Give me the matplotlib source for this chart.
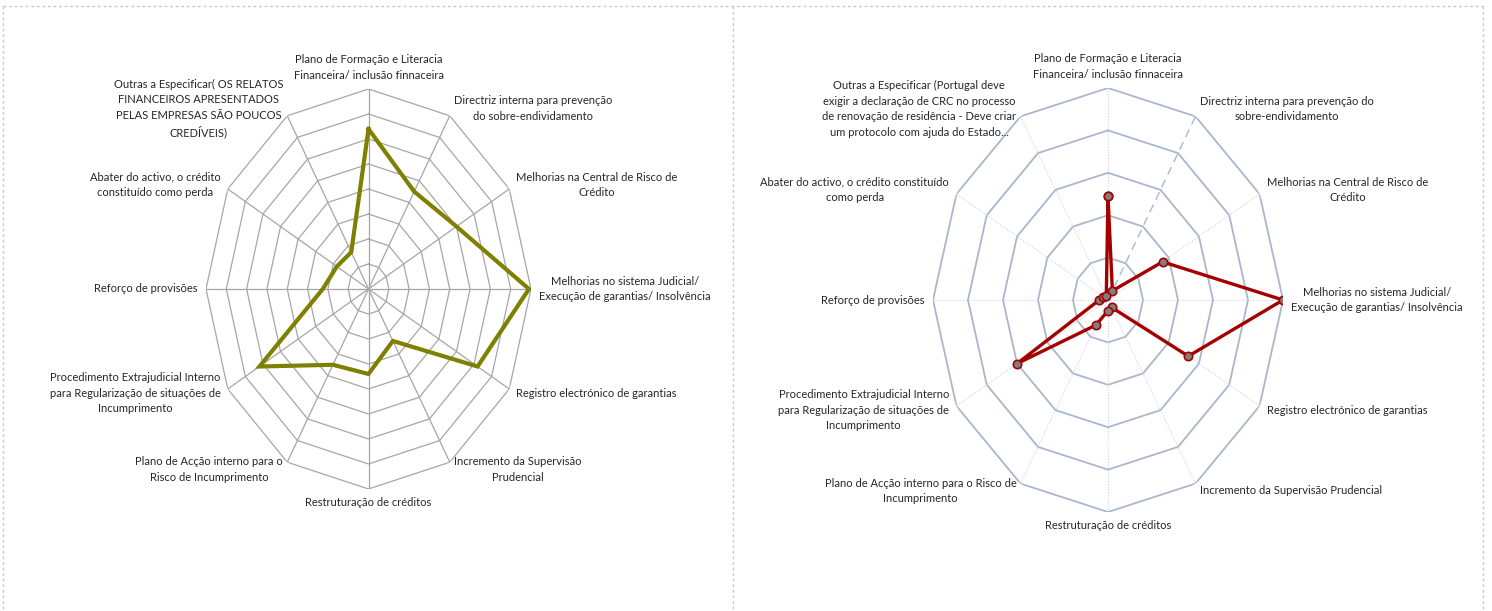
import numpy as np
import matplotlib.pyplot as plt
from matplotlib.lines import Line2D

plt.rcParams['font.family'] = ['Lato', 'DejaVu Sans']

# categorias (sentido horario a partir do topo)
labels_left = [
    "Plano de Formação e Literacia\nFinanceira/ inclusão finnaceira",
    "Directriz interna para prevenção\ndo sobre-endividamento",
    "Melhorias na Central de Risco de\nCrédito",
    "Melhorias no sistema Judicial/\nExecução de garantias/ Insolvência",
    "Registro electrónico de garantias",
    "Incremento da Supervisão\nPrudencial",
    "Restruturação de créditos",
    "Plano de Acção interno para o\nRisco de Incumprimento",
    "Procedimento Extrajudicial Interno\npara Regularização de situações de\nIncumprimento",
    "Reforço de provisões",
    "Abater do activo, o crédito\nconstituído como perda",
    "Outras a Especificar( OS RELATOS\nFINANCEIROS APRESENTADOS\nPELAS EMPRESAS SÃO POUCOS\nCREDÍVEIS)",
]
labels_right = [
    "Plano de Formação e Literacia\nFinanceira/ inclusão finnaceira",
    "Directriz interna para prevenção do\nsobre-endividamento",
    "Melhorias na Central de Risco de\nCrédito",
    "Melhorias no sistema Judicial/\nExecução de garantias/ Insolvência",
    "Registro electrónico de garantias",
    "Incremento da Supervisão Prudencial",
    "Restruturação de créditos",
    "Plano de Acção interno para o Risco de\nIncumprimento",
    "Procedimento Extrajudicial Interno\npara Regularização de situações de\nIncumprimento",
    "Reforço de provisões",
    "Abater do activo, o crédito constituído\ncomo perda",
    "Outras a Especificar (Portugal deve\nexigir a declaração de CRC no processo\nde renovação de residência - Deve criar\num protocolo com ajuda do Estado...",
]

values_left = [6.4, 4.5, 5.0, 7.9, 6.2, 2.4, 3.4, 3.5, 6.2, 2.25, 1.8, 1.7]
values_right = [2.45, 0.25, 1.8, 5.0, 2.65, 0.2, 0.25, 0.68, 3.0, 0.25, 0.15, 0.1]

rmax_left = 8
rmax_right = 5

n = len(labels_left)
theta = np.arange(n) * 2 * np.pi / n
theta_c = np.append(theta, theta[0])


def setup(ax, rmax):
    ax.set_theta_zero_location('N')
    ax.set_theta_direction(-1)
    ax.set_aspect('auto')
    ax.set_ylim(0, rmax)
    ax.grid(False)
    ax.set_xticks([])
    ax.set_yticks([])
    ax.spines['polar'].set_visible(False)
    ax.patch.set_alpha(0)


def add_labels(ax, labels, rmax, gap=6):
    for t, lab in zip(theta, labels):
        s, c = np.sin(t), np.cos(t)
        if s > 0.1:
            ha = 'left'
        elif s < -0.1:
            ha = 'right'
        else:
            ha = 'center'
        if abs(s) < 0.1:
            va = 'bottom' if c > 0 else 'top'
        else:
            va = 'center'
        ax.annotate(lab, xy=(t, rmax), xytext=(gap * s, gap * c),
                    textcoords='offset points', ha=ha, va=va,
                    multialignment='center', fontsize=8,
                    linespacing=1.5, color='#262626', annotation_clip=False)


fig = plt.figure(figsize=(14.92, 6.11), dpi=100)
fig.patch.set_facecolor('white')

# grafico esquerdo
ax1 = fig.add_axes([206 / 1492, (611 - 489) / 611, 325 / 1492, 400 / 611], projection='polar')
setup(ax1, rmax_left)
for k in range(1, rmax_left + 1):
    ax1.plot(theta_c, [k] * (n + 1), color='#a6a6a6', lw=0.9, zorder=1)
for t in theta:
    ax1.plot([t, t], [0, rmax_left], color='#a6a6a6', lw=0.9, zorder=1)
ax1.plot(theta_c, np.append(values_left, values_left[0]), color='#808000', lw=3.0,
         solid_joinstyle='miter', zorder=3)
add_labels(ax1, labels_left, rmax_left)

# grafico direito
ax2 = fig.add_axes([933 / 1492, (611 - 512) / 611, 350 / 1492, 424 / 611], projection='polar')
setup(ax2, rmax_right)
for k in range(1, rmax_right + 1):
    ax2.plot(theta_c, [k] * (n + 1), color='#aab6cc', lw=1.3, zorder=1)
for i, t in enumerate(theta):
    if i == 1:
        ax2.plot([t, t], [0, rmax_right], color='#aab6cc', lw=1.0, ls=(0, (6, 4)), zorder=1)
    else:
        ax2.plot([t, t], [0, rmax_right], color='#c9d2e3', lw=0.8, ls=(0, (1, 1.5)), zorder=1)
ax2.plot(theta_c, np.append(values_right, values_right[0]), color='#a50000', lw=2.4,
         marker='o', markersize=6, markerfacecolor='#7f7f7f', markeredgecolor='#a50000',
         markeredgewidth=1.2, zorder=3)
add_labels(ax2, labels_right, rmax_right)

# molduras pontilhadas
fx = lambda px: px / 1492
fy = lambda py: 1 - py / 611
border = dict(color='#c8c8c8', lw=1.0, ls=(0, (2, 2)))
fig.add_artist(Line2D([fx(3), fx(1483)], [fy(6), fy(6)], **border))
for xb in (3, 733, 1483):
    fig.add_artist(Line2D([fx(xb), fx(xb)], [fy(6), fy(611)], **border))

fig.savefig('out.png', dpi=100)
